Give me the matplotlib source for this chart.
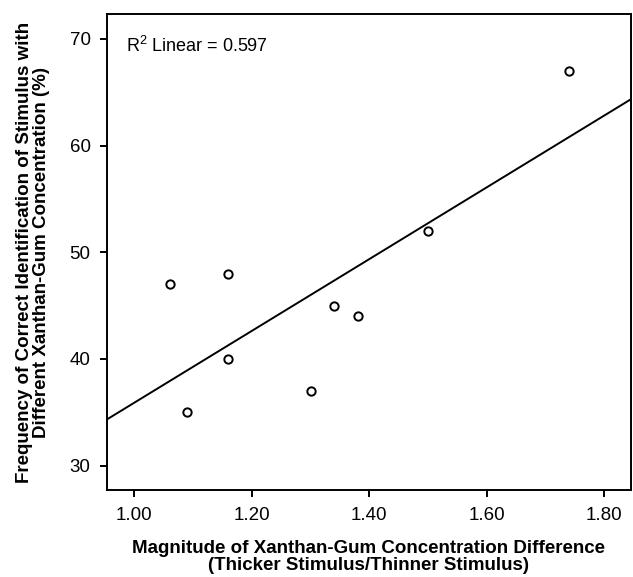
import numpy as np
import matplotlib
matplotlib.use("Agg")
import matplotlib.pyplot as plt

plt.rcParams['font.family'] = ['Liberation Sans', 'DejaVu Sans']
plt.rcParams['mathtext.fontset'] = 'custom'
plt.rcParams['mathtext.rm'] = 'Liberation Sans'
plt.rcParams['mathtext.it'] = 'Liberation Sans'

x_vals = [1.06, 1.09, 1.16, 1.16, 1.30, 1.34, 1.38, 1.50, 1.74]
y_vals = [47, 35, 48, 40, 37, 45, 44, 52, 67]
x_ticks = [1.00, 1.20, 1.40, 1.60, 1.80]
x_tick_labels = ["1.00", "1.20", "1.40", "1.60", "1.80"]
y_ticks = [30, 40, 50, 60, 70]
r2_text = r"R$^{\mathrm{2}}$ Linear = 0.597"

fig = plt.figure(figsize=(6.33, 5.77), dpi=100)
ax = fig.add_axes([107.3/633, 87/577, 523.4/633, 476/577])

ax.scatter(x_vals, y_vals, s=36, facecolors='white', edgecolors='black', linewidths=1.4, zorder=3)

xlim = (0.954, 1.845)
slope, intercept = np.polyfit(x_vals, y_vals, 1)
xl = np.array(xlim)
ax.plot(xl, slope * xl + intercept, color='black', lw=1.4, zorder=2)

ax.set_xlim(*xlim)
ax.set_ylim(27.72, 72.34)
ax.set_xticks(x_ticks)
ax.set_xticklabels(x_tick_labels)
ax.set_yticks(y_ticks)
ax.tick_params(direction='out', length=5, width=1.4, labelsize=13.5)
ax.tick_params(axis='x', pad=7)
ax.tick_params(axis='y', pad=7)
for s in ax.spines.values():
    s.set_linewidth(1.4)

ax.text(0.036, 0.92, r2_text, transform=ax.transAxes, fontsize=13, va='baseline', ha='left')

lab_font = dict(family=['Liberation Sans', 'DejaVu Sans'], fontsize=13.5, fontweight='bold')
ax.set_xlabel("Magnitude of Xanthan-Gum Concentration Difference\n(Thicker Stimulus/Thinner Stimulus)",
              labelpad=12, linespacing=1.0, **lab_font)
ax.set_ylabel("Frequency of Correct Identification of Stimulus with\nDifferent Xanthan-Gum Concentration (%)",
              labelpad=14, linespacing=1.0, **lab_font)

fig.savefig("out.png", dpi=100)
